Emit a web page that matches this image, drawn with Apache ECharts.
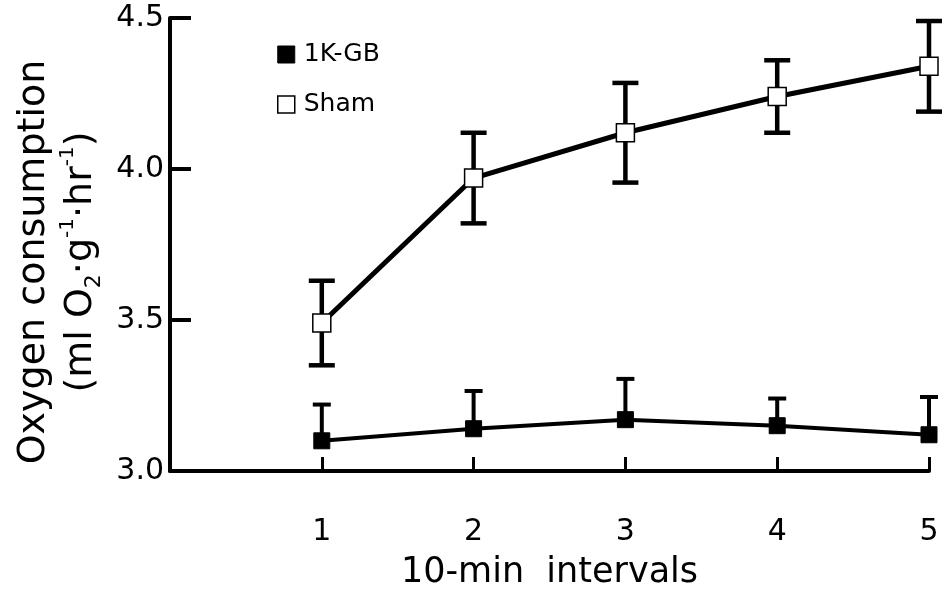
<!DOCTYPE html>
<html>
<head>
<meta charset="utf-8">
<script src="https://cdn.jsdelivr.net/npm/echarts@6/dist/echarts.min.js"></script>
<style>
html,body{margin:0;padding:0;background:#fff;}
#chart{width:944px;height:590px;}
</style>
</head>
<body>
<div id="chart"></div>
<script>
// ---- data ----
const intervals = [1, 2, 3, 4, 5];
const shamMean = [3.49, 3.97, 4.12, 4.24, 4.34];
const shamErr  = [0.14, 0.15, 0.165, 0.12, 0.15];
const gbMean   = [3.10, 3.14, 3.17, 3.15, 3.12];
const gbErr    = [0.12, 0.125, 0.135, 0.09, 0.125];
const yTicks = [3.0, 3.5, 4.0, 4.5];
const seriesNames = ['1K-GB', 'Sham'];

const FONT = 'DejaVu Sans';
const chart = echarts.init(document.getElementById('chart'));

function errBarSeries(means, errs, both, capHalf, lw) {
  return {
    type: 'custom',
    silent: true,
    clip: false,
    z: 1,
    data: intervals.map((x, i) => [x, both ? means[i] - errs[i] : means[i], means[i] + errs[i]]),
    renderItem: function (params, api) {
      const x = api.value(0);
      const lo = api.coord([x, api.value(1)]);
      const hi = api.coord([x, api.value(2)]);
      const style = { stroke: '#000', lineWidth: lw, lineCap: 'butt' };
      const children = [
        { type: 'line', shape: { x1: hi[0], y1: hi[1], x2: lo[0], y2: lo[1] }, style: style },
        { type: 'line', shape: { x1: hi[0] - capHalf, y1: hi[1], x2: hi[0] + capHalf, y2: hi[1] }, style: style }
      ];
      if (both) {
        children.push({ type: 'line', shape: { x1: lo[0] - capHalf, y1: lo[1], x2: lo[0] + capHalf, y2: lo[1] }, style: style });
      }
      return { type: 'group', children: children };
    }
  };
}

const option = {
  backgroundColor: '#fff',
  animation: false,
  grid: { left: 170, right: 15, top: 18, bottom: 119, containLabel: false, outerBoundsMode: 'none' },
  legend: {
    orient: 'vertical',
    left: 272,
    top: 37,
    itemWidth: 17,
    itemHeight: 17,
    itemGap: 25,
    textStyle: { fontFamily: FONT, fontSize: 25, color: '#000', padding: [0, 0, 0, 4] },
    data: [
      { name: seriesNames[0], icon: 'rect', itemStyle: { color: '#000', borderColor: '#000', borderWidth: 1 } },
      { name: seriesNames[1], icon: 'rect', itemStyle: { color: '#fff', borderColor: '#000', borderWidth: 1.5 } }
    ]
  },
  graphic: [
    {
      type: 'text',
      x: 58,
      y: 262,
      rotation: Math.PI / 2,
      style: {
        text: '{a|Oxygen consumption}\n{a|(ml O}{sub|2}{a|·g}{sup|-1}{a|·hr}{sup|-1}{a|)}',
        align: 'center',
        verticalAlign: 'middle',
        fill: '#000',
        rich: {
          a: { fontFamily: FONT, fontSize: 38, lineHeight: 47, fill: '#000' },
          sup: { fontFamily: FONT, fontSize: 20, lineHeight: 30, verticalAlign: 'top', fill: '#000' },
          sub: { fontFamily: FONT, fontSize: 22, lineHeight: 30, verticalAlign: 'bottom', fill: '#000' }
        }
      }
    }
  ],
  xAxis: {
    type: 'value',
    min: 0, max: 5, interval: 1,
    name: '10-min  intervals',
    nameLocation: 'middle',
    nameGap: 84,
    nameTextStyle: { fontFamily: FONT, fontSize: 35, color: '#000' },
    axisLine: { show: true, lineStyle: { color: '#000', width: 4 } },
    axisTick: { show: true, inside: true, length: 14, lineStyle: { color: '#000', width: 3 } },
    axisLabel: {
      margin: 46, fontFamily: FONT, fontSize: 30, color: '#000',
      formatter: v => (v === 0 ? '' : String(v))
    },
    splitLine: { show: false }
  },
  yAxis: {
    type: 'value',
    min: yTicks[0], max: yTicks[yTicks.length - 1], interval: 0.5,
    axisLine: { show: true, lineStyle: { color: '#000', width: 4 } },
    axisTick: { show: true, inside: true, length: 21, lineStyle: { color: '#000', width: 4 } },
    axisLabel: {
      margin: 6, fontFamily: FONT, fontSize: 30, color: '#000',
      formatter: v => v.toFixed(1)
    },
    splitLine: { show: false }
  },
  series: [
    errBarSeries(gbMean, gbErr, false, 9, 4),
    errBarSeries(shamMean, shamErr, true, 13, 4.5),
    {
      name: seriesNames[0],
      type: 'line',
      z: 3,
      data: intervals.map((x, i) => [x, gbMean[i]]),
      symbol: 'rect',
      symbolSize: 16,
      lineStyle: { color: '#000', width: 4 },
      itemStyle: { color: '#000', borderColor: '#000', borderWidth: 1 }
    },
    {
      name: seriesNames[1],
      type: 'line',
      z: 3,
      data: intervals.map((x, i) => [x, shamMean[i]]),
      symbol: 'rect',
      symbolSize: 18,
      lineStyle: { color: '#000', width: 5 },
      itemStyle: { color: '#fff', borderColor: '#000', borderWidth: 1.5 }
    }
  ]
};
chart.setOption(option);
</script>
</body>
</html>
